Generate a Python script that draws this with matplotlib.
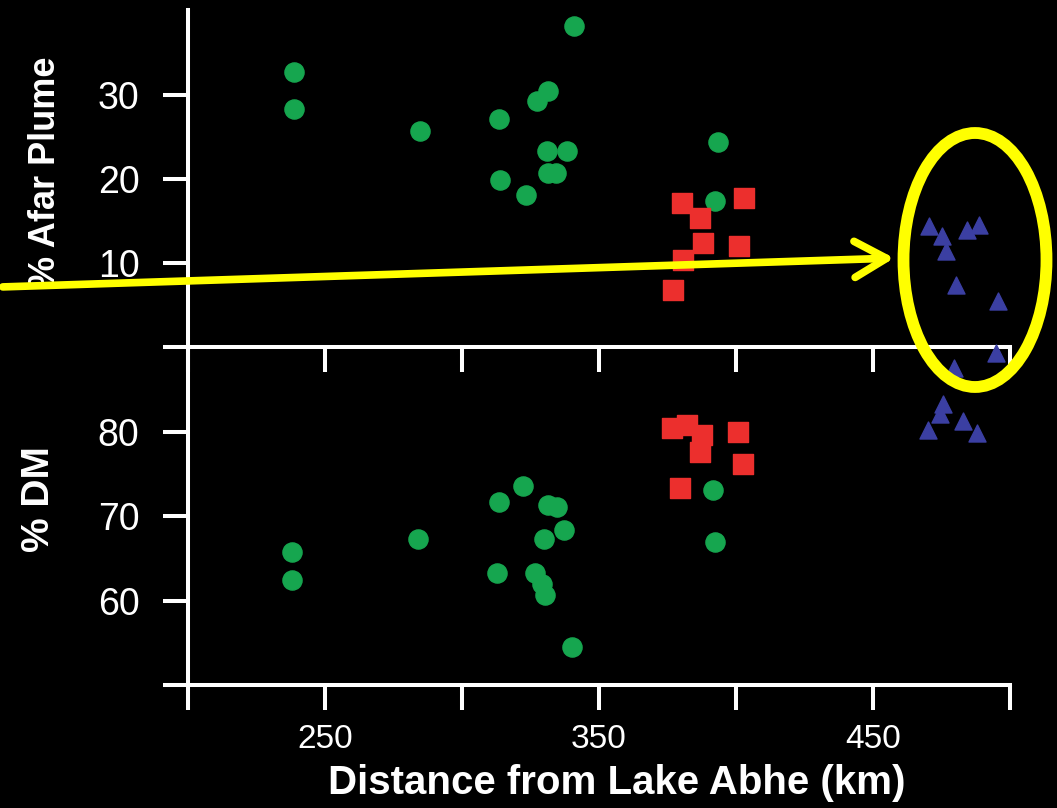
import numpy as np
import matplotlib
matplotlib.use("Agg")
import matplotlib.pyplot as plt
from matplotlib.patches import Ellipse, FancyArrowPatch

plt.rcParams["font.family"] = ["Liberation Sans", "DejaVu Sans"]

# % Afar Plume (top panel)
green_x_top = [238.7, 238.7, 284.7, 340.9, 313.5, 313.9, 323.4, 327.4, 331.4, 331.0, 338.3, 331.4, 334.3, 393.4, 392.3]
green_y_top = [32.7, 28.3, 25.7, 38.2, 27.1, 19.9, 18.1, 29.3, 30.5, 23.3, 23.3, 20.7, 20.7, 24.4, 17.4]
red_x_top = [380.3, 402.9, 387.0, 388.0, 401.0, 380.7, 377.0]
red_y_top = [17.1, 17.7, 15.4, 12.4, 12.0, 10.4, 6.8]
blue_x_top = [470.4, 475.2, 476.6, 484.3, 488.7, 480.3, 495.6]
blue_y_top = [14.4, 13.2, 11.4, 13.9, 14.5, 7.4, 5.5]

# % DM (bottom panel)
green_x_bot = [238.0, 238.0, 283.9, 322.3, 313.5, 331.4, 334.7, 337.2, 329.9, 312.8, 326.6, 329.2, 330.3, 340.1, 391.6, 392.3]
green_y_bot = [65.8, 62.4, 67.3, 73.6, 71.7, 71.3, 71.1, 68.3, 67.3, 63.3, 63.2, 61.9, 60.7, 54.5, 73.1, 66.9]
red_x_bot = [376.6, 382.0, 387.6, 386.9, 400.7, 402.5, 379.6]
red_y_bot = [80.4, 80.8, 79.6, 77.6, 80.0, 76.1, 73.3]
blue_x_bot = [494.9, 479.6, 475.5, 474.5, 470.0, 482.8, 488.0]
blue_y_bot = [89.3, 87.5, 83.3, 82.1, 80.2, 81.2, 79.8]

x_ticks = [200, 250, 300, 350, 400, 450, 500]
x_ticklabels = ["", "250", "", "350", "", "450", ""]

GREEN = "#16a64f"
RED = "#ec2f2d"
BLUE = "#3b3fa2"
YELLOW = "#ffff00"

fig = plt.figure(figsize=(10.57, 8.08), dpi=100, facecolor="black")
ax1 = fig.add_axes([0.1779, 0.5705, 0.7777, 0.4171])
ax2 = fig.add_axes([0.1779, 0.1522, 0.7777, 0.4183])


def style(ax):
    ax.set_facecolor("none")
    for s in ["top", "right"]:
        ax.spines[s].set_visible(False)
    for s in ["left", "bottom"]:
        ax.spines[s].set_color("white")
        ax.spines[s].set_linewidth(2.9)
    ax.tick_params(colors="white", width=2.9, length=18, direction="out")
    ax.tick_params(axis="y", labelsize=27, pad=17)
    ax.tick_params(axis="x", labelsize=24, pad=10)
    ax.set_xlim(200, 500)
    ax.set_xticks(x_ticks)


style(ax1)
style(ax2)

ax1.scatter(green_x_top, green_y_top, s=190, c=GREEN, marker="o", clip_on=False, zorder=3)
ax1.scatter(red_x_top, red_y_top, s=200, c=RED, marker="s", clip_on=False, zorder=3)
ax1.scatter(blue_x_top, blue_y_top, s=150, c=BLUE, marker="^", clip_on=False, zorder=3)
ax1.set_ylim(0, 40.1)
ax1.set_yticks([0, 10, 20, 30])
ax1.set_yticklabels(["", "10", "20", "30"])
ax1.set_xticklabels([])
ax1.set_ylabel("% Afar Plume", color="white", fontsize=26, fontweight="bold")
ax1.yaxis.set_label_coords(-0.152, 0.52)

ax2.scatter(green_x_bot, green_y_bot, s=190, c=GREEN, marker="o", clip_on=False, zorder=3)
ax2.scatter(red_x_bot, red_y_bot, s=200, c=RED, marker="s", clip_on=False, zorder=3)
ax2.scatter(blue_x_bot, blue_y_bot, s=150, c=BLUE, marker="^", clip_on=False, zorder=3)
ax2.set_ylim(50, 90)
ax2.set_yticks([50, 60, 70, 80])
ax2.set_yticklabels(["", "60", "70", "80"])
ax2.set_xticklabels(x_ticklabels)
ax2.set_ylabel("% DM", color="white", fontsize=28, fontweight="bold")
ax2.yaxis.set_label_coords(-0.16, 0.55)
ax2.set_xlabel("Distance from Lake Abhe (km)", color="white", fontsize=29, fontweight="bold")
ax2.xaxis.set_label_coords(0.522, -0.235)

# yellow callout
W, H = 1057, 808
arrow = FancyArrowPatch((0 / W, 1 - 287 / H), (897 / W, 1 - 258 / H),
                        transform=fig.transFigure, color=YELLOW, lw=5.5,
                        arrowstyle="->,head_length=1.15,head_width=0.65",
                        mutation_scale=20, capstyle="round", joinstyle="round")
fig.add_artist(arrow)
ring = Ellipse((975 / W, 1 - 260 / H), 143 / W, 254 / H, transform=fig.transFigure,
               fill=False, edgecolor=YELLOW, lw=8.5)
fig.add_artist(ring)

fig.savefig("out.png", dpi=100, facecolor="black")
